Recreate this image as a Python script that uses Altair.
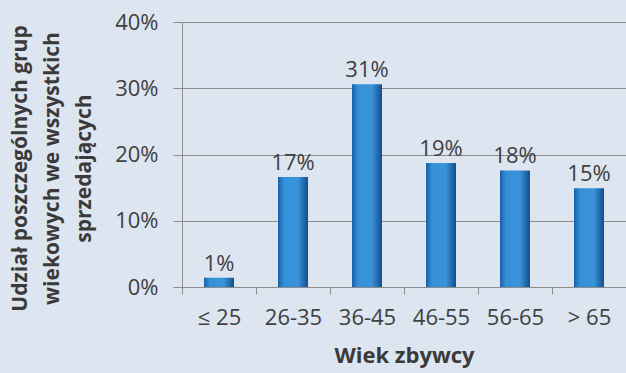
import altair as alt
import pandas as pd

categories = ["≤ 25", "26-35", "36-45", "46-55", "56-65", "> 65"]
shares = [0.014, 0.166, 0.306, 0.187, 0.176, 0.149]
y_ticks = [0.0, 0.1, 0.2, 0.3, 0.4]

df = pd.DataFrame({"wiek": categories, "udzial": shares})

FONT = "Open Sans"
TXT = "#404040"
GRID = "#8c8c8c"

x = alt.X(
    "wiek:N",
    sort=categories,
    scale=alt.Scale(paddingInner=0, paddingOuter=0),
    axis=alt.Axis(
        title="Wiek zbywcy",
        titleFont=FONT, titleFontSize=22, titleFontWeight="bold", titleColor="#3a3a3a",
        titleY=68, titleBaseline="middle",
        labelFont=FONT, labelFontSize=22, labelColor=TXT, labelAngle=0,
        labelPadding=13, tickSize=7, tickBand="extent",
        domainColor=GRID, tickColor=GRID, grid=False,
    ),
)

y = alt.Y(
    "udzial:Q",
    scale=alt.Scale(domain=[0, 0.4]),
    axis=alt.Axis(
        title=["Udział poszczególnych grup", "wiekowych we wszystkich", "sprzedających"],
        titleFont=FONT, titleFontSize=21, titleFontWeight="bold", titleColor="#3a3a3a",
        titleAngle=-90, titleX=-162, titleY=146, titleBaseline="middle",
        titleAlign="center", titleLineHeight=32,
        values=y_ticks, format=".0%",
        labelFont=FONT, labelFontSize=22, labelColor=TXT, labelPadding=15,
        tickSize=9, tickColor=GRID, domainColor=GRID,
        grid=True, gridColor=GRID, gridWidth=1,
    ),
)

bars = alt.Chart(df).mark_bar(
    size=30,
    color=alt.Gradient(
        gradient="linear", x1=0, x2=1, y1=0, y2=0,
        stops=[
            alt.GradientStop(offset=0, color="#175fa6"),
            alt.GradientStop(offset=0.2, color="#3690d8"),
            alt.GradientStop(offset=0.65, color="#3a94da"),
            alt.GradientStop(offset=1, color="#134f8e"),
        ],
    ),
).encode(x=x, y=y)

labels = alt.Chart(df).mark_text(
    font=FONT, fontSize=22, color=TXT, baseline="alphabetic", dy=-7
).encode(
    x=alt.X("wiek:N", sort=categories),
    y="udzial:Q",
    text=alt.Text("udzial:Q", format=".0%"),
)

chart = (
    alt.layer(bars, labels)
    .properties(
        width=444, height=265,
        background="#dce5f0",
        padding={"left": 182, "top": 22, "right": 0, "bottom": 86},
        autosize=alt.AutoSizeParams(type="none"),
    )
    .configure_view(stroke=None)
)

chart.save("out.html", embed_options={"renderer": "svg", "actions": False})
